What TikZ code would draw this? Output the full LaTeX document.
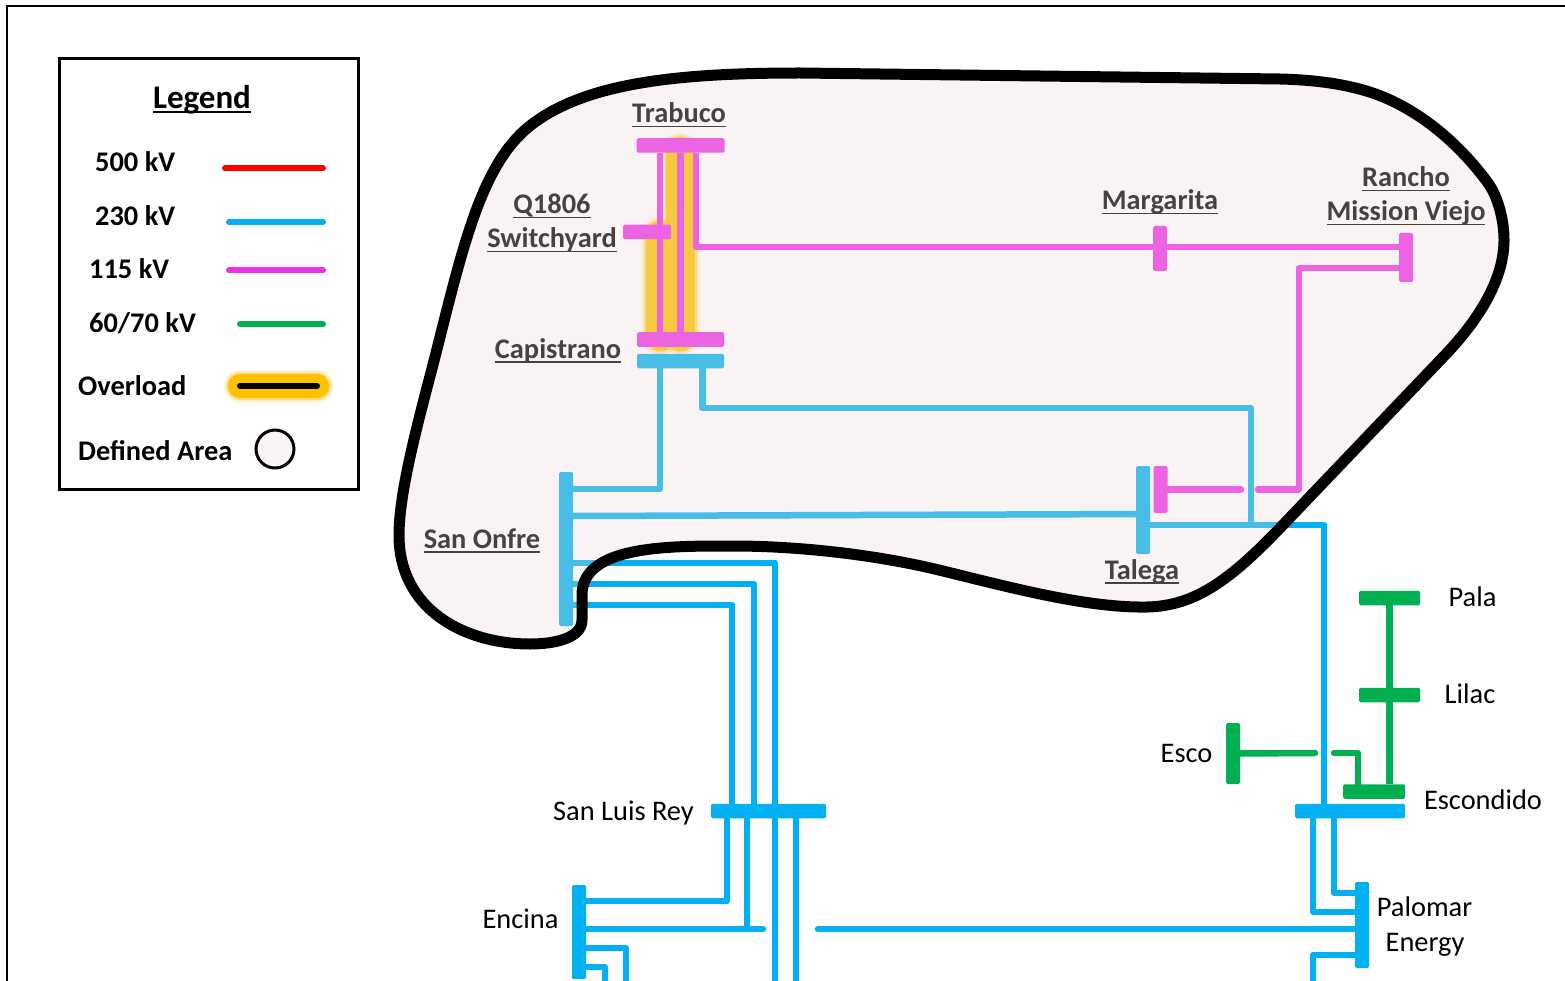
\documentclass[tikz,border=0pt]{standalone}
\usepackage{fontspec}
\setmainfont{Carlito}
\definecolor{hv}{RGB}{0,176,240}
\definecolor{mv}{RGB}{236,47,233}
\definecolor{lv}{RGB}{0,176,80}
\definecolor{ov}{RGB}{255,192,0}
\definecolor{area}{RGB}{237,220,216}
\newcommand\ulx[1]{\leavevmode\setbox0=\hbox{#1}\rlap{\raisebox{-4.5pt}{\rule{\wd0}{1.6pt}}}\box0}
\newcommand\glowpath[1]{\foreach \w/\o in {38/.12,35/.2,32/.35,29/1}{\draw[ov,line width=\w pt,opacity=\o,line cap=round] #1;}}
\pgfdeclarelayer{glowlayer}
\pgfsetlayers{glowlayer,main}
\tikzset{
  x=1pt,y=-1pt,
  bar/.style={rectangle,rounded corners=1.5pt,inner sep=0pt,outer sep=0pt,draw=none},
  hbar/.style={bar,minimum height=14.5pt},
  vbar/.style={bar,minimum width=14pt},
  wire/.style={line width=6.5pt,line join=round},
  gapend/.style={wire,line cap=round},
  lbl/.style={inner sep=0pt,anchor=base,font=\fontsize{28.4}{32}\selectfont},
  arealbl/.style={lbl,font=\fontsize{28.4}{32}\selectfont\bfseries},
  leglbl/.style={lbl,anchor=base west,font=\fontsize{28.4}{32}\selectfont\bfseries},
  legline/.style={line width=6pt,line cap=round},
}
\begin{document}
\begin{tikzpicture}
\useasboundingbox (0,0) rectangle (1565,981);
\clip (0,0) rectangle (1565,981);
\begin{pgfonlayer}{glowlayer}
\fill[white] (0,0) rectangle (1565,981);
\end{pgfonlayer}
% frame
\coordinate (fa) at (1565,6);
\coordinate (fb) at (7,6);
\coordinate (fc) at (7,981);
\draw[line width=2pt] (fa) -- (fb) -- (fc);

% buses
\node[hbar,fill=mv,minimum width=88pt] (trabuco) at (680.5,145.5) {};
\node[hbar,fill=mv,minimum width=48pt] (q1806) at (647,232) {};
\node[hbar,fill=mv,minimum width=87pt] (capm) at (680.5,339.5) {};
\node[hbar,fill=hv,minimum width=87pt] (capb) at (680.5,361) {};
\node[vbar,fill=hv,minimum height=154pt] (sanonfre) at (566,549) {};
\node[vbar,fill=hv,minimum height=88pt] (talega) at (1143,510) {};
\node[vbar,fill=mv,minimum height=47pt] (talegam) at (1160.5,489.5) {};
\node[vbar,fill=mv,minimum height=45pt] (margarita) at (1160,248.5) {};
\node[vbar,fill=mv,minimum height=49pt] (rancho) at (1406,257.5) {};
\node[hbar,fill=lv,minimum width=61pt] (pala) at (1389.5,598) {};
\node[hbar,fill=lv,minimum width=61pt] (lilac) at (1389.5,695) {};
\node[hbar,fill=lv,minimum width=62pt] (escg) at (1374,791.5) {};
\node[vbar,fill=lv,minimum height=61pt] (esco) at (1233,753.5) {};
\node[hbar,fill=hv,minimum width=110pt] (escb) at (1350,811) {};
\node[vbar,fill=hv,minimum height=86pt] (palomar) at (1362,925) {};
\node[hbar,fill=hv,minimum width=115pt] (slr) at (768.5,811) {};
\node[vbar,fill=hv,minimum height=94pt] (encina) at (579,932) {};

% overload glow
\begin{pgfonlayer}{glowlayer}
\glowpath{([xshift=-20.5pt,yshift=-90pt]trabuco.center) -- ([xshift=-20.5pt,yshift=3pt]capm.center)}
\glowpath{([yshift=-6pt]trabuco.center) -- ([yshift=3pt]capm.center)}
\end{pgfonlayer}

% free ends and junctions
\coordinate (j1) at (1251,525);
\coordinate (g1) at (1241,489.5);
\coordinate (g2) at (1258,489.5);
\coordinate (g3) at (1315,753);
\coordinate (g4) at (1334,753);
\coordinate (g5) at (763,929);
\coordinate (g6) at (818,929);
\coordinate (j2) at (747,929);
\coordinate (b1) at (775,985);
\coordinate (b2) at (796,985);
\coordinate (b3) at (626,985);
\coordinate (b4) at (605,985);
\coordinate (b5) at (1313,985);
\coordinate (e1) at (1299,489.5);
\coordinate (e2) at (1251,408);

% 115 kV
\draw[wire,mv] ([xshift=-20.5pt]trabuco.south) -- ([xshift=-20.5pt]capm.north);
\draw[wire,mv] (trabuco.south) -- (capm.north);
\draw[wire,mv] ([xshift=15.5pt]trabuco.south) |- ([yshift=10.5pt]rancho.west);
\draw[gapend,mv] (talegam.east) -- (g1);
\draw[gapend,mv] (g2) -- (e1) |- ([yshift=-10.5pt]rancho.west);

% 230 kV
\draw[wire,hv] ([xshift=-20.5pt]capb.south) |- ([yshift=60pt]sanonfre.east);
\draw[wire,hv] ([xshift=22pt]capb.south) |- (e2) -- (j1);
\draw[wire,hv] ([yshift=33pt]sanonfre.east) -- ([yshift=-4pt]talega.east);
\draw[wire,hv] ([yshift=-15pt]talega.east) -| ([xshift=-26pt]escb.north);
\draw[wire,hv] ([yshift=-14pt]sanonfre.east) -| ([xshift=6.5pt]slr.north);
\draw[wire,hv] ([yshift=-35pt]sanonfre.east) -| ([xshift=-14.5pt]slr.north);
\draw[wire,hv] ([yshift=-56pt]sanonfre.east) -| ([xshift=-36.5pt]slr.north);
\draw[wire,hv] ([xshift=6.5pt]slr.south) -- (b1);
\draw[wire,hv] ([xshift=27.5pt]slr.south) -- (b2);
\draw[wire,hv] ([xshift=-41.5pt]slr.south) |- ([yshift=31pt]encina.east);
\draw[wire,hv] ([xshift=-21.5pt]slr.south) -- (j2);
\draw[gapend,hv] ([yshift=3pt]encina.east) -- (g5);
\draw[gapend,hv] (g6) -- ([yshift=-4pt]palomar.west);
\draw[wire,hv] ([yshift=-16pt]encina.east) -| (b3);
\draw[wire,hv] ([yshift=-35pt]encina.east) -| (b4);
\draw[wire,hv] ([xshift=-37pt]escb.south) |- ([yshift=13pt]palomar.west);
\draw[wire,hv] ([xshift=-16pt]escb.south) |- ([yshift=32pt]palomar.west);
\draw[wire,hv] ([yshift=-30pt]palomar.west) -| (b5);

% 60/70 kV
\draw[wire,lv] (pala.south) -- (lilac.north);
\draw[wire,lv] (lilac.south) -- ([xshift=15.5pt]escg.north);
\draw[gapend,lv] (esco.east) -- (g3);
\draw[gapend,lv] (g4) -| ([xshift=-16pt]escg.north);

% labels inside the area
\node[arealbl] (ltrabuco) at (679,123) {\ulx{Trabuco}};
\node[arealbl] (lq) at (552,214) {\ulx{Q1806}};
\node[arealbl] (lsw) at (552,248) {\ulx{Switchyard}};
\node[arealbl] (lcap) at (558,358) {\ulx{Capistrano}};
\node[arealbl] (lmar) at (1160,210) {\ulx{Margarita}};
\node[arealbl] (lran) at (1406,187) {\ulx{Rancho}};
\node[arealbl] (lmis) at (1406,221) {\ulx{Mission Viejo}};
\node[arealbl] (lsan) at (482,548) {\ulx{San Onfre}};
\node[arealbl] (ltal) at (1142,579) {\ulx{Talega}};

% defined area
\draw[fill=area,fill opacity=.3,draw=black,line width=11pt,draw opacity=1,line join=round]
  (800,73) -- (1280,79)
  .. controls (1320,80) and (1345,85) .. (1363,90)
  .. controls (1410,103) and (1455,138) .. (1488,183)
  .. controls (1498,197) and (1504,220) .. (1504,240)
  .. controls (1504,280) and (1478,320) .. (1447,353)
  -- (1280,528)
  .. controls (1230,580) and (1195,606) .. (1147,607)
  .. controls (1090,608) and (1020,590) .. (947,572)
  .. controls (880,555) and (800,546) .. (733,546)
  .. controls (670,546) and (582,545) .. (582,595)
  -- (582,620)
  .. controls (582,638) and (555,644) .. (530,644)
  .. controls (465,644) and (399,610) .. (399,535)
  .. controls (399,490) and (420,415) .. (435,357)
  .. controls (462,250) and (480,170) .. (525,130)
  .. controls (580,82) and (680,73) .. (800,73)
  -- cycle;

% labels outside the area
\node[lbl] (lpala) at (1472.5,606.5) {Pala};
\node[lbl] (llil) at (1470,703.5) {Lilac};
\node[lbl] (lesco) at (1186.5,762) {Esco};
\node[lbl] (lesc) at (1483,809.5) {Escondido};
\node[lbl] (lpal) at (1424.5,916.5) {Palomar};
\node[lbl] (lene) at (1425,951) {Energy};
\node[lbl] (lslr) at (623.5,820) {San Luis Rey};
\node[lbl] (lenc) at (520.5,928) {Encina};

% legend
\node[rectangle,draw=black,line width=3pt,fill=white,minimum width=299pt,minimum height=431pt,inner sep=0pt] (legend) at (209,274) {};
\node[lbl,font=\fontsize{33}{36}\selectfont\bfseries] (ltitle) at (202,108.5) {\ulx{Legend}};
\node[leglbl] (l500) at (95,172) {500 kV};
\node[leglbl] (l230) at (95,226) {230 kV};
\node[leglbl] (l115) at (89,279) {115 kV};
\node[leglbl] (l60) at (89,333) {60/70 kV};
\node[leglbl] (lov) at (78,395) {Overload};
\node[leglbl] (ldef) at (78,460) {Defined Area};
\coordinate (r1) at (225,168.5); \coordinate (r2) at (323,168.5);
\coordinate (h1) at (229,222); \coordinate (h2) at (323,222);
\coordinate (m1) at (229,270.5); \coordinate (m2) at (323,270.5);
\coordinate (n1) at (240,324.5); \coordinate (n2) at (323,324.5);
\coordinate (o1) at (240,386); \coordinate (o2) at (317,386);
\draw[legline,red] (r1) -- (r2);
\draw[legline,hv] (h1) -- (h2);
\draw[legline,mv] (m1) -- (m2);
\draw[legline,lv] (n1) -- (n2);
\foreach \w/\o in {33/.1,30/.2,27/.35,24/1}{\draw[ov,line width=\w pt,opacity=\o,line cap=round] (o1) -- (o2);}
\draw[legline,black] (o1) -- (o2);
\node[circle,draw=black,line width=3pt,fill=area!30!white,minimum size=38pt,inner sep=0pt] (circ) at (275,449) {};
\end{tikzpicture}
\end{document}
